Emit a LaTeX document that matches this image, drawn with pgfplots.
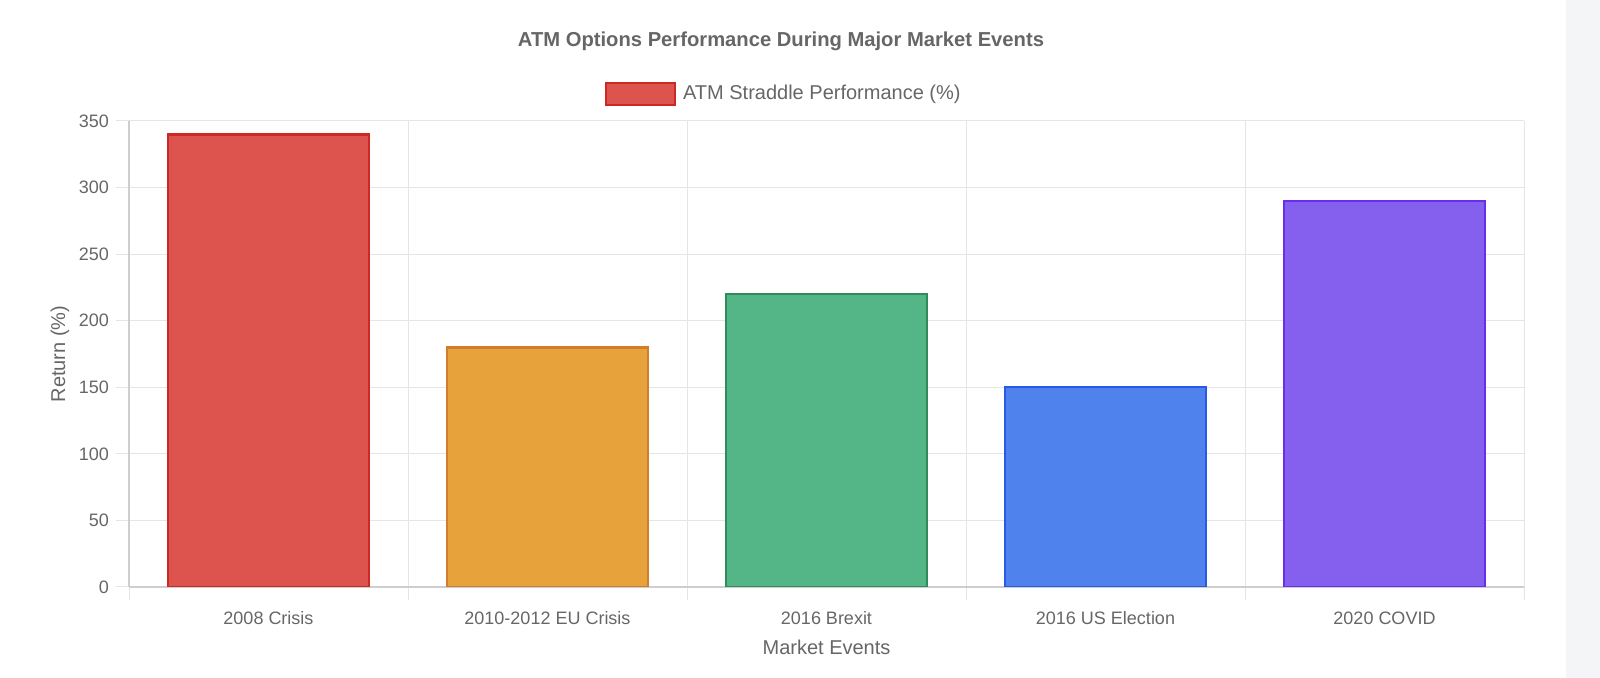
\documentclass[border=0pt]{standalone}
\usepackage{fontspec}
\setmainfont{Liberation Sans}
\usepackage{pgfplots}
\pgfplotsset{compat=1.18}
\definecolor{txt}{RGB}{102,102,102}
\definecolor{gridc}{RGB}{229,229,229}
\definecolor{axc}{RGB}{206,206,206}
\definecolor{strip}{RGB}{244,245,247}
\definecolor{redf}{RGB}{221,84,78}
\definecolor{redb}{RGB}{205,40,36}
\definecolor{orf}{RGB}{231,162,60}
\definecolor{orb}{RGB}{210,125,45}
\definecolor{grf}{RGB}{84,182,135}
\definecolor{grb}{RGB}{50,140,90}
\definecolor{blf}{RGB}{79,130,236}
\definecolor{blb}{RGB}{40,90,230}
\definecolor{puf}{RGB}{133,96,238}
\definecolor{pub}{RGB}{105,45,235}
\begin{document}
\begin{tikzpicture}
\useasboundingbox (-64.5pt,-45.5pt) rectangle (735.5pt,293.5pt);
\fill[strip] (718.5pt,-45.5pt) rectangle (735.5pt,293.5pt);
\begin{axis}[
  at={(0pt,0pt)}, anchor=south west,
  scale only axis, width=697.5pt, height=233pt,
  xmin=-0.5, xmax=4.5, ymin=0, ymax=350,
  ybar, bar width=0.72, bar shift=0pt,
  xtick={0,...,4},
  xticklabels={2008 Crisis,2010-2012 EU Crisis,2016 Brexit,2016 US Election,2020 COVID},
  minor xtick={-0.5,0.5,...,4.5},
  ytick={0,50,...,350},
  axis lines*=left,
  axis line style={draw=axc, line width=0.6pt},
  ymajorgrids, xminorgrids,
  major grid style={draw=gridc, line width=0.5pt},
  minor grid style={draw=gridc, line width=0.5pt},
  tick align=outside,
  major tick length=6.5pt, minor tick length=6.5pt,
  tick style={draw=gridc, line width=0.5pt},
  every major x tick/.append style={draw=none},
  /pgf/number format/assume math mode=true,
  tick label style={font=\fontsize{9}{11}\selectfont, text=txt},
  xticklabel style={yshift=-2pt, text height=6.6pt, text depth=2pt},
  xlabel={Market Events},
  ylabel={Return (\%)},
  label style={font=\fontsize{10}{12}\selectfont, text=txt},
  xlabel style={at={(axis description cs:0.5,0)}, anchor=north, yshift=-23pt},
  ylabel style={at={(axis description cs:-0.0495,0.5)}, anchor=center},
  legend style={draw=none, fill=none, at={(axis description cs:0.470,1.058)}, anchor=center,
    font=\fontsize{10}{12}\selectfont, text=txt},
]
\addplot[fill=redf, draw=redb, line width=1.2pt,
  legend image code/.code={\draw[fill=redf, draw=redb, line width=1.2pt] (0pt,-5.5pt) rectangle (34.5pt,5.5pt); \path (36pt,0pt);}]
  coordinates {(0,340)};
\addlegendentry{ATM Straddle Performance (\%)}
\addplot[fill=orf, draw=orb, line width=1.2pt, forget plot] coordinates {(1,180)};
\addplot[fill=grf, draw=grb, line width=1.2pt, forget plot] coordinates {(2,220)};
\addplot[fill=blf, draw=blb, line width=1.2pt, forget plot] coordinates {(3,150)};
\addplot[fill=puf, draw=pub, line width=1.2pt, forget plot] coordinates {(4,290)};
\end{axis}
\node[anchor=base, font=\bfseries\fontsize{10.1}{12}\selectfont, text=txt] at (326pt,270pt) {ATM Options Performance During Major Market Events};
\end{tikzpicture}
\end{document}
